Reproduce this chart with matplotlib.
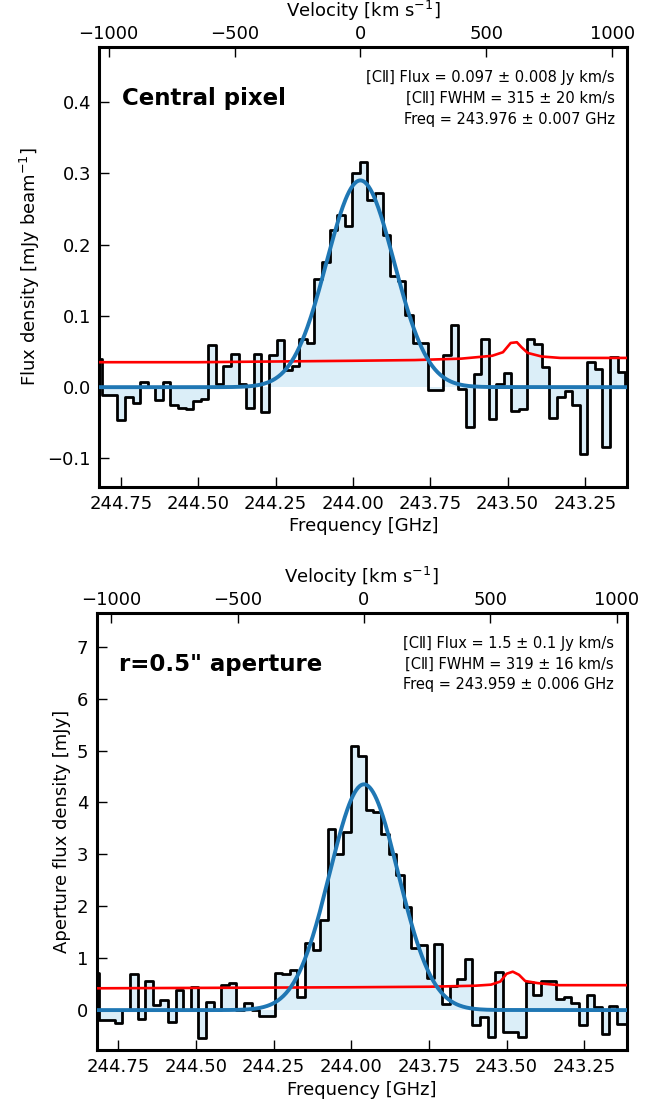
import matplotlib
matplotlib.use("Agg")
import matplotlib.pyplot as plt
import numpy as np

C_KMS = 299792.458

# channel grid (GHz) - same for both spectra
FREQ_FIRST = 244.8228
CHAN_WIDTH = 0.0245
N_CHAN = 71

# central pixel spectrum [mJy/beam]
flux_pix = [
    0.040, -0.011, -0.011, -0.046, -0.014, -0.022, 0.007, 0.000, -0.018, 0.007,
    -0.025, -0.029, -0.031, -0.019, -0.016, 0.059, 0.004, 0.029, 0.046, 0.004,
    -0.029, 0.046, -0.035, 0.045, 0.066, 0.024, 0.030, 0.068, 0.062, 0.152,
    0.176, 0.220, 0.241, 0.226, 0.301, 0.316, 0.262, 0.272, 0.213, 0.156,
    0.149, 0.101, 0.062, 0.062, -0.004, -0.004, 0.045, 0.087, -0.003, -0.056,
    0.018, 0.068, -0.045, 0.004, 0.020, -0.033, -0.031, 0.067, 0.060, 0.028,
    -0.043, -0.014, -0.005, -0.025, -0.094, 0.035, 0.026, -0.084, 0.042, 0.021,
    0.000,
]

# r=0.5" aperture spectrum [mJy]
flux_ap = [
    0.72, -0.19, -0.19, -0.24, 0.00, 0.70, -0.18, 0.56, 0.10, 0.19,
    -0.22, 0.38, 0.00, 0.45, -0.54, 0.16, 0.00, 0.49, 0.53, 0.00,
    0.14, 0.00, -0.12, -0.12, 0.72, 0.70, 0.78, 0.26, 1.30, 1.15,
    1.73, 3.49, 3.01, 3.43, 5.08, 4.90, 3.85, 3.81, 3.40, 3.01,
    2.60, 1.99, 1.19, 1.25, 0.61, 1.28, 0.12, 0.46, 0.60, 0.99,
    -0.29, -0.14, -0.51, 0.74, -0.42, -0.42, -0.51, 0.54, 0.30, 0.56,
    0.56, 0.22, 0.26, 0.13, -0.29, 0.29, 0.06, -0.46, 0.08, -0.27,
    -0.27,
]

# noise (red) curves
rms_freq_pix = [244.82, 244.5, 244.25, 244.0, 243.8, 243.65, 243.55, 243.515,
                243.49, 243.47, 243.455, 243.435, 243.39, 243.33, 243.11]
rms_pix = [0.035, 0.035, 0.036, 0.037, 0.038, 0.040, 0.044, 0.049,
           0.062, 0.063, 0.056, 0.048, 0.043, 0.041, 0.041]
rms_freq_ap = [244.82, 244.4, 244.0, 243.75, 243.6, 243.55, 243.52, 243.5,
               243.48, 243.46, 243.44, 243.40, 243.33, 243.11]
rms_ap = [0.42, 0.43, 0.44, 0.45, 0.47, 0.49, 0.55, 0.70,
          0.74, 0.68, 0.56, 0.52, 0.48, 0.48]

# gaussian fit parameters: amplitude, centre [GHz], FWHM [km/s]
fit_pix = (0.29, 243.976, 315.0)
fit_ap = (4.35, 243.959, 319.0)

notes_pix = ["[C\u2161] Flux = 0.097 \u00b1 0.008 Jy km/s",
             "[C\u2161] FWHM = 315 \u00b1 20 km/s",
             "Freq = 243.976 \u00b1 0.007 GHz"]
notes_ap = ["[C\u2161] Flux = 1.5 \u00b1 0.1 Jy km/s",
            "[C\u2161] FWHM = 319 \u00b1 16 km/s",
            "Freq = 243.959 \u00b1 0.006 GHz"]

FILL = "#dbeef8"
BLUE = "#1f77b4"

plt.rcParams["font.family"] = ["DejaVu Sans"]
plt.rcParams["mathtext.default"] = "regular"

freq = FREQ_FIRST - CHAN_WIDTH * np.arange(N_CHAN)


def gauss(f, amp, f0, fwhm_kms):
    sig = fwhm_kms / C_KMS * f0 / 2.3548
    return amp * np.exp(-0.5 * ((f - f0) / sig) ** 2)


def panel(ax, flux, rms_f, rms, fit, ylim, ylabel, title, notes):
    flux = np.array(flux)
    ax.fill_between(freq, 0, flux, step="mid", color=FILL, lw=0, zorder=1)
    ax.step(freq, flux, where="mid", color="black", lw=2.0, zorder=3)
    ax.plot(rms_f, rms, color="red", lw=1.9, zorder=4)
    ff = np.linspace(freq.min(), freq.max(), 600)
    ax.plot(ff, gauss(ff, *fit), color=BLUE, lw=2.8, zorder=5)

    ax.set_xlim(244.82, 243.113)
    ax.set_ylim(*ylim)
    ax.set_xticks([244.75, 244.5, 244.25, 244.0, 243.75, 243.5, 243.25])
    ax.set_xticklabels(["244.75", "244.50", "244.25", "244.00",
                        "243.75", "243.50", "243.25"])
    ax.tick_params(direction="in", length=7, width=1, labelsize=13, pad=6)
    for sp in ax.spines.values():
        sp.set_linewidth(2.2)
    ax.set_xlabel("Frequency [GHz]", fontsize=13, labelpad=3)
    ax.set_ylabel(ylabel, fontsize=13)

    f0 = fit[1]
    sec = ax.secondary_xaxis(
        "top",
        functions=(lambda f: C_KMS * (f0 - f) / f0,
                   lambda v: f0 - v * f0 / C_KMS))
    sec.set_xticks([-1000, -500, 0, 500, 1000])
    sec.tick_params(direction="in", length=7, width=1, labelsize=13, pad=3)
    sec.set_xlabel(r"Velocity [km s$^{-1}$]", fontsize=13, labelpad=6)

    ax.text(0.043, 0.882, title, transform=ax.transAxes, fontsize=16.5,
            fontweight="bold", va="center", ha="left")
    for i, line in enumerate(notes):
        ax.text(0.976, 0.93 - 0.047 * i, line, transform=ax.transAxes,
                fontsize=10.5, ha="right", va="center")


fig = plt.figure(figsize=(6.62, 11.08), dpi=100)
ax1 = fig.add_axes([0.150, 0.5605, 0.7976, 0.397])
ax2 = fig.add_axes([0.1458, 0.0523, 0.801, 0.3944])

panel(ax1, flux_pix, rms_freq_pix, rms_pix, fit_pix, (-0.14, 0.477),
      r"Flux density [mJy beam$^{-1}$]", "Central pixel", notes_pix)
panel(ax2, flux_ap, rms_freq_ap, rms_ap, fit_ap, (-0.77, 7.65),
      "Aperture flux density [mJy]", 'r=0.5" aperture', notes_ap)
ax1.set_yticks([-0.1, 0.0, 0.1, 0.2, 0.3, 0.4])
ax2.set_yticks(range(0, 8))

fig.savefig("out.png", dpi=100)
